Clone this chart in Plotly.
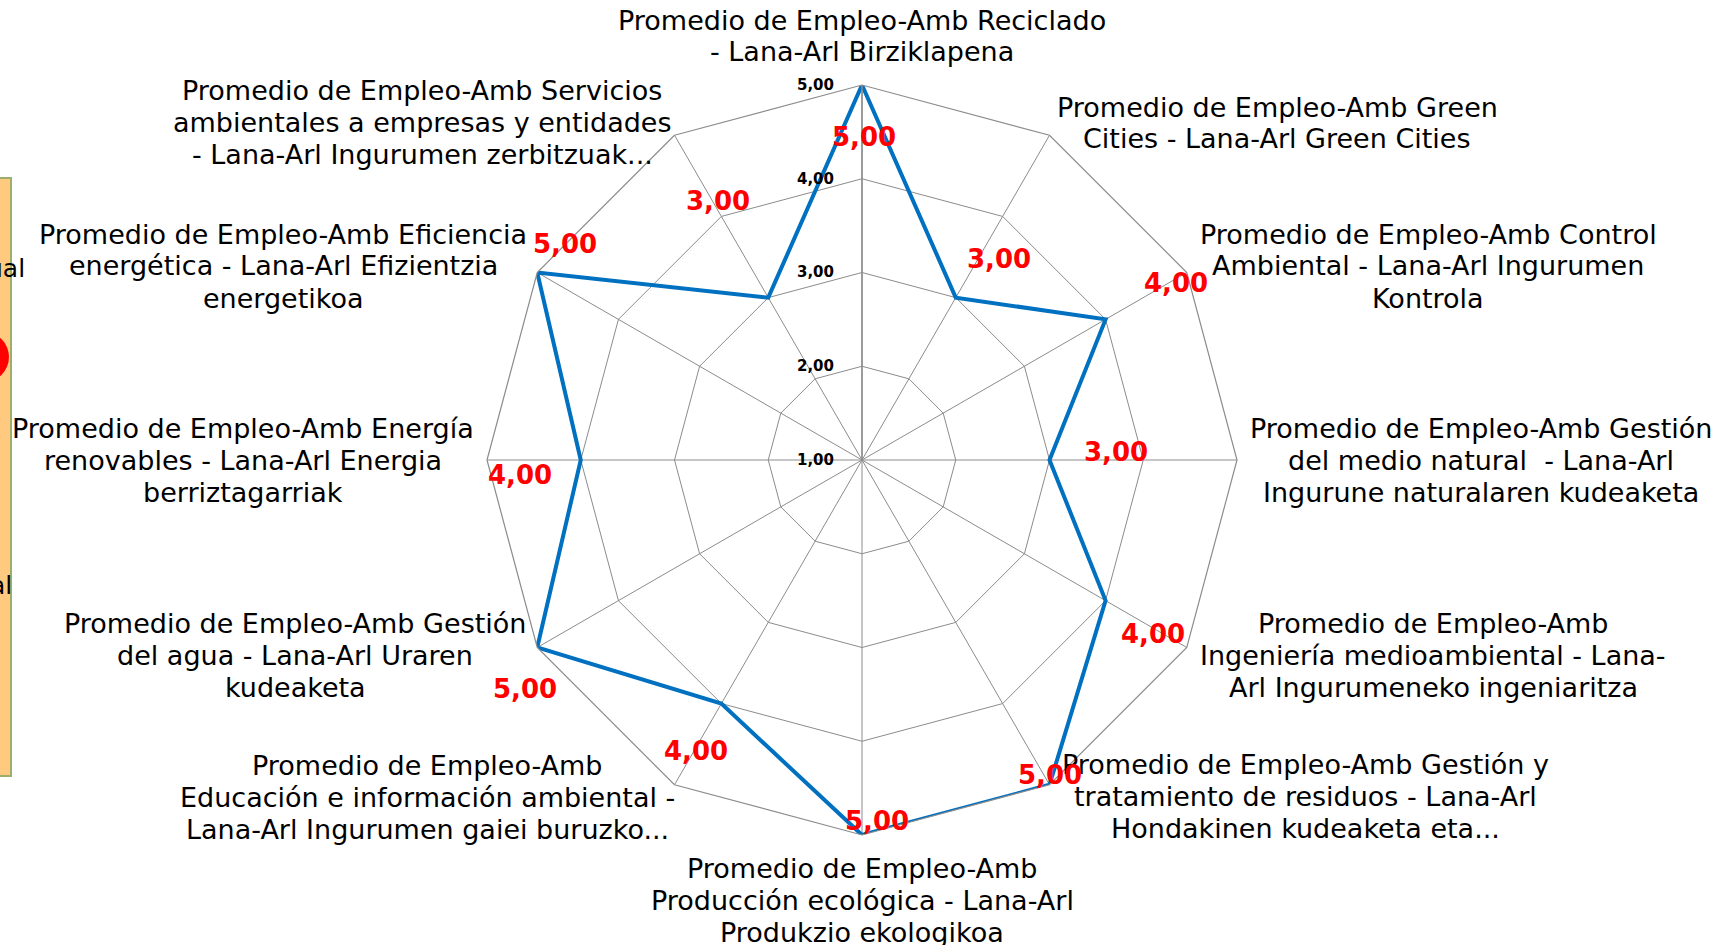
import math
import plotly.graph_objects as go

# categories, clockwise from the top (each entry = the lines of its label)
CATEGORY_LINES = [
    ["Promedio de Empleo-Amb Reciclado", "- Lana-Arl Birziklapena"],
    ["Promedio de Empleo-Amb Green", "Cities - Lana-Arl Green Cities"],
    ["Promedio de Empleo-Amb Control", "Ambiental - Lana-Arl Ingurumen", "Kontrola"],
    ["Promedio de Empleo-Amb Gestión", "del medio natural  - Lana-Arl", "Ingurune naturalaren kudeaketa"],
    ["Promedio de Empleo-Amb", "Ingeniería medioambiental - Lana-", "Arl Ingurumeneko ingeniaritza"],
    ["Promedio de Empleo-Amb Gestión y", "tratamiento de residuos - Lana-Arl", "Hondakinen kudeaketa eta..."],
    ["Promedio de Empleo-Amb", "Producción ecológica - Lana-Arl", "Produkzio ekologikoa"],
    ["Promedio de Empleo-Amb", "Educación e información ambiental -", "Lana-Arl Ingurumen gaiei buruzko..."],
    ["Promedio de Empleo-Amb Gestión", "del agua - Lana-Arl Uraren", "kudeaketa"],
    ["Promedio de Empleo-Amb Energía", "renovables - Lana-Arl Energia", "berriztagarriak"],
    ["Promedio de Empleo-Amb Eficiencia", "energética - Lana-Arl Efizientzia", "energetikoa"],
    ["Promedio de Empleo-Amb Servicios", "ambientales a empresas y entidades", "- Lana-Arl Ingurumen zerbitzuak..."],
]
CATEGORIES = [" ".join(lines) for lines in CATEGORY_LINES]
VALUES = [5, 3, 4, 3, 4, 5, 5, 4, 5, 4, 5, 3]
R_TICKS = [1, 2, 3, 4, 5]

BLUE = "#0070C0"
GRID = "#8C8C8C"
W, H = 1729, 945
CX, CY, RAD = 862, 460, 375
R_MIN, R_MAX = 1, 5
LINE_H = 32

# where each category label block sits (centre x, first line y), in pixels
LABEL_POS = [(862, 20), (1277, 107), (1428, 234), (1481, 428), (1433, 623), (1305, 764),
             (862, 868), (427, 765), (295, 623), (243, 428), (283, 234), (422, 90)]
# nudge of each red value label from its point, in pixels
VALUE_SHIFT = [(2, 52), (43, -39), (70, -36), (66, -8), (47, 33), (0, -10),
               (15, -14), (-25, 47), (-12, 41), (-61, 15), (28, -29), (-50, -97)]


def px(x, y):
    return x / W, 1 - y / H


fig = go.Figure(go.Scatterpolar(
    r=VALUES + VALUES[:1], theta=CATEGORIES + CATEGORIES[:1],
    mode="lines", line=dict(color=BLUE, width=4),
    hovertemplate="%{theta}: %{r:.2f}<extra></extra>",
))

annotations = []
for lines, (lx, ly) in zip(CATEGORY_LINES, LABEL_POS):
    for k, line in enumerate(lines):
        x, y = px(lx, ly + k * LINE_H)
        annotations.append(dict(
            x=x, y=y, xref="paper", yref="paper", text=line, showarrow=False,
            xanchor="center", yanchor="middle",
            font=dict(family="DejaVu Sans", size=27, color="black"),
        ))

n = len(VALUES)
for i, (v, (dx, dy)) in enumerate(zip(VALUES, VALUE_SHIFT)):
    ang = math.radians(i * 360 / n)
    rp = (v - R_MIN) / (R_MAX - R_MIN) * RAD
    x, y = px(CX + rp * math.sin(ang) + dx, CY - rp * math.cos(ang) + dy)
    annotations.append(dict(
        x=x, y=y, xref="paper", yref="paper", text=f"{v:.2f}".replace(".", ","),
        showarrow=False, xanchor="center", yanchor="middle",
        font=dict(family="DejaVu Sans", size=26, color="#FF0000", weight="bold"),
    ))

# bits of the neighbouring panel cut off at the left edge
for txt, (tx, ty) in [("ual", (27, 268)), ("al", (14, 585))]:
    x, y = px(tx, ty)
    annotations.append(dict(
        x=x, y=y, xref="paper", yref="paper", text=txt, showarrow=False,
        xanchor="right", yanchor="middle",
        font=dict(family="DejaVu Sans", size=25, color="black"),
    ))

shapes = [
    dict(type="rect", xref="paper", yref="paper",
         x0=-6 / W, x1=11 / W, y0=1 - 776 / H, y1=1 - 178 / H,
         fillcolor="#FFCA80", line=dict(color="#9BAF6B", width=2), layer="below"),
    dict(type="circle", xref="paper", yref="paper",
         x0=-41 / W, x1=9 / W, y0=1 - 382 / H, y1=1 - 332 / H,
         fillcolor="#FF0000", line=dict(width=0), layer="below"),
]

fig.update_layout(
    width=W, height=H,
    margin=dict(l=0, r=0, t=0, b=0),
    paper_bgcolor="white", plot_bgcolor="white",
    separators=",.",
    showlegend=False,
    annotations=annotations,
    shapes=shapes,
    polar=dict(
        domain=dict(x=[(CX - RAD) / W, (CX + RAD) / W],
                    y=[1 - (CY + RAD) / H, 1 - (CY - RAD) / H]),
        bgcolor="rgba(0,0,0,0)",
        gridshape="linear",
        radialaxis=dict(
            range=[R_MIN, R_MAX], tickvals=R_TICKS, tickformat=".2f",
            angle=90, tickangle=90, side="counterclockwise",
            showline=True, linecolor=GRID, linewidth=1.5,
            gridcolor=GRID, gridwidth=1.2,
            ticks="outside", ticklen=22, tickcolor="rgba(0,0,0,0)",
            tickfont=dict(family="DejaVu Sans", size=15, color="black", weight="bold"),
        ),
        angularaxis=dict(
            rotation=90, direction="clockwise",
            showticklabels=False, ticks="",
            showline=True, linecolor=GRID, linewidth=1.2,
            gridcolor=GRID, gridwidth=1.2,
        ),
    ),
)

fig.write_html("out.html", config={"displayModeBar": False},
               post_script="document.body.style.margin='0';")
